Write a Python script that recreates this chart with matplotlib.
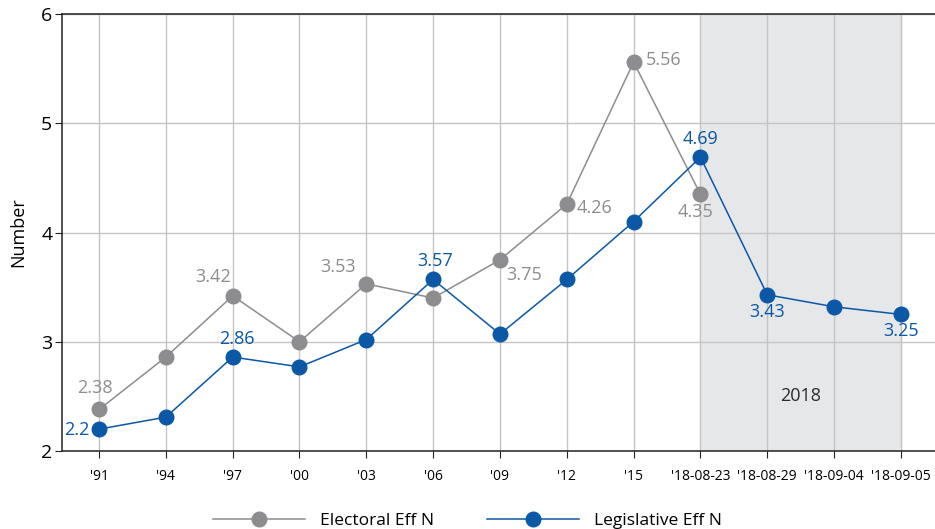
import matplotlib
matplotlib.use("Agg")
import matplotlib.pyplot as plt
import numpy as np

plt.rcParams["font.family"] = ["Open Sans", "DejaVu Sans"]

categories = ["'91", "'94", "'97", "'00", "'03", "'06", "'09", "'12", "'15",
              "'18-08-23", "'18-08-29", "'18-09-04", "'18-09-05"]
electoral = [2.38, 2.86, 3.42, 3.00, 3.53, 3.40, 3.75, 4.26, 5.56, 4.35]
legislative = [2.20, 2.31, 2.86, 2.77, 3.02, 3.57, 3.07, 3.57, 4.10, 4.69, 3.43, 3.32, 3.25]

# which points get a value label, and where (offset in pixels, ha, va)
electoral_labels = {
    0: ((-4, 12), "center", "bottom"),
    2: ((-2, 10), "right", "bottom"),
    4: ((-10, 8), "right", "bottom"),
    6: ((6, -6), "left", "top"),
    7: ((10, -4), "left", "center"),
    8: ((12, 2), "left", "center"),
    9: ((-5, -9), "center", "top"),
}
legislative_labels = {
    0: ((-10, -1), "right", "center"),
    2: ((4, 9), "center", "bottom"),
    5: ((2, 9), "center", "bottom"),
    9: ((0, 9), "center", "bottom"),
    10: ((0, -8), "center", "top"),
    12: ((0, -8), "center", "top"),
}

GRAY = "#8d8d8f"
BLUE = "#0a58a6"

fig = plt.figure(figsize=(9.35, 5.29), dpi=100)
ax = fig.add_axes([62 / 935, 1 - 451 / 529, 1 - 62 / 935, (451 - 14) / 529])

x = np.arange(len(categories))
ax.axvspan(9, 12, color="#e6e7e9", zorder=0)

ax.plot(x[:len(electoral)], electoral, color=GRAY, lw=1.1, marker="o", ms=10.5,
        label="Electoral Eff N", zorder=3)
ax.plot(x, legislative, color=BLUE, lw=1.1, marker="o", ms=10.5,
        label="Legislative Eff N", zorder=4)

for series, labels, col in [(electoral, electoral_labels, GRAY),
                            (legislative, legislative_labels, BLUE)]:
    for i, (off, ha, va) in labels.items():
        ax.annotate(f"{series[i]:g}", (x[i], series[i]),
                    xytext=(off[0] * 0.72, off[1] * 0.72), textcoords="offset points",
                    ha=ha, va=va, color=col, fontsize=13, zorder=5)

ax.text(10.5, 2.5, "2018", ha="center", va="center", fontsize=13, color="#2b2b2b")

ax.set_xlim(-0.554, 12.51)
ax.set_ylim(2, 6)
ax.set_xticks(x)
ax.set_xticklabels(categories, fontsize=10)
ax.set_yticks([2, 3, 4, 5, 6])
ax.tick_params(axis="y", labelsize=14, length=5, color="#222222", pad=2)
ax.tick_params(axis="x", length=5, color="#222222", pad=8)
ax.set_ylabel("Number", fontsize=13, labelpad=10)

ax.grid(True, color="#c4c4c6", lw=1.0, zorder=1)
ax.set_axisbelow(True)
for side in ["left", "bottom", "top"]:
    ax.spines[side].set_color("#222222")
    ax.spines[side].set_linewidth(1.1)
ax.spines["right"].set_visible(False)

fig.legend(loc="lower center", bbox_to_anchor=(0.5, -0.03), ncol=2, frameon=False,
           handlelength=5.3, columnspacing=3.0, fontsize=12.5, handletextpad=0.9)

fig.savefig("out.png", dpi=100)
